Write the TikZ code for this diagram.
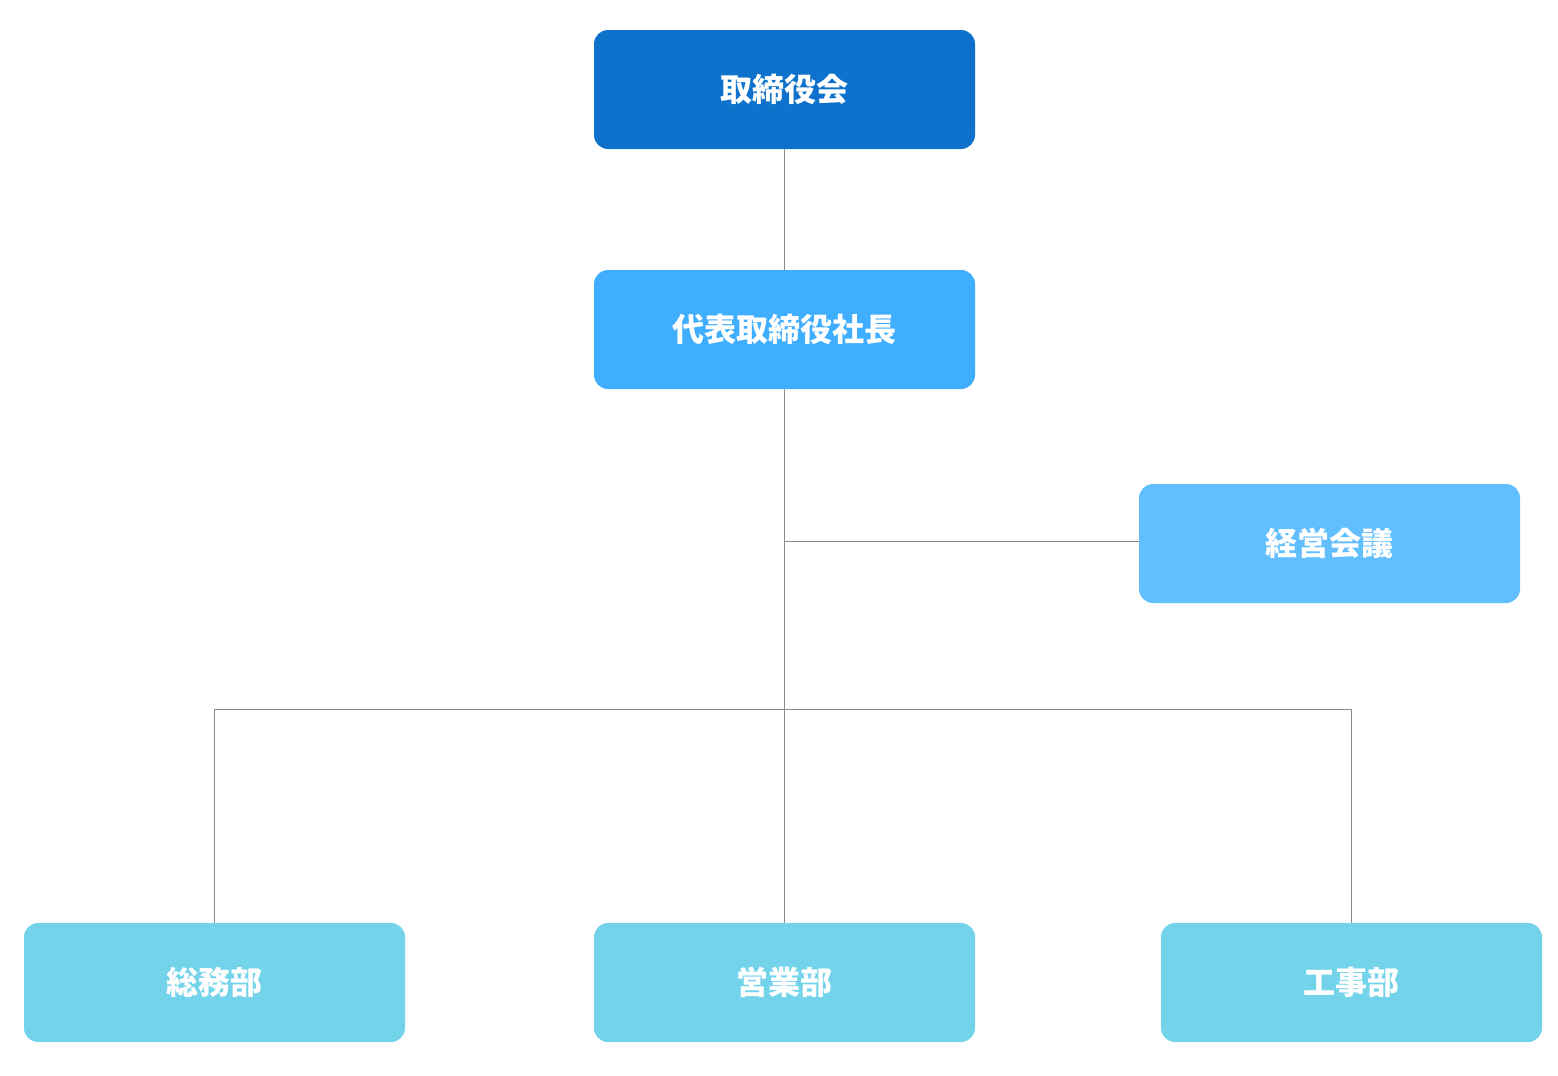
\documentclass[tikz,border=0pt]{standalone}
\usepackage{fontspec}
\newfontfamily\cjk{Noto Sans CJK JP}
\usetikzlibrary{positioning}
\definecolor{boardblue}{HTML}{0E72CC}
\definecolor{presblue}{HTML}{3FAEFF}
\definecolor{meetblue}{HTML}{62BFFF}
\definecolor{deptblue}{HTML}{72D3EA}
\definecolor{linegray}{HTML}{8A8A8A}
\begin{document}
\begin{tikzpicture}[x=1pt,y=-1pt]
    \tikzset{% box and line styles
    box/.style={rounded corners=14pt,minimum width=381pt,minimum height=119pt,
      inner sep=0pt,text=white,font=\cjk\bfseries\fontsize{32}{32}\selectfont},
    con/.style={linegray,line width=1.8pt},
    }
    \useasboundingbox (0,0) rectangle (1558,1076);
    % Nodes
    \node[box,fill=boardblue] (board) at (784.5,89.5) {取締役会};
    \node[box,fill=presblue] (pres) at (784.5,329.5) {代表取締役社長};
    \node[box,fill=meetblue] (meet) at (1329.5,543.5) {経営会議};
    \node[box,fill=deptblue] (gen) at (214.5,982.5) {総務部};
    \node[box,fill=deptblue] (sales) at (784.5,982.5) {営業部};
    \node[box,fill=deptblue] (work) at (1351.5,982.5) {工事部};
    \coordinate (mid) at (784.5,541.5);
    \coordinate (bar) at (784.5,709.5);

    % Edges
    \draw[con] (board) -- (pres);
    \draw[con] (pres) -- (sales);
    \draw[con] (mid) -- (meet.west |- mid);
    \draw[con] (gen) |- (bar) -| (work);
\end{tikzpicture}
\end{document}
